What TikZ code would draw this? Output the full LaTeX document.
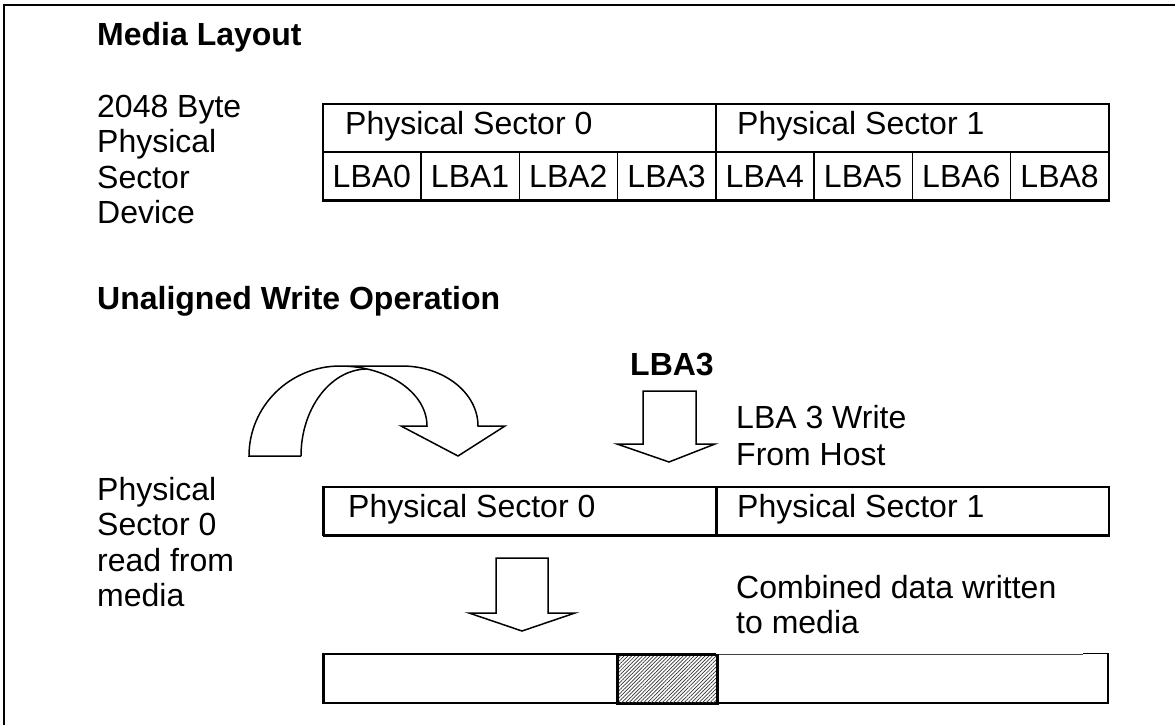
\documentclass[tikz,border=0pt]{standalone}
\usepackage{fontspec}
\setmainfont{Liberation Sans}
\usetikzlibrary{patterns.meta}
\newcommand\diagfs{\fontsize{32}{36}\selectfont}
\begin{document}
\begin{tikzpicture}[x=1pt,y=-1pt,
  txt/.style={anchor=base west, inner sep=0pt, font=\diagfs},
  btxt/.style={anchor=base west, inner sep=0pt, font=\diagfs\bfseries},
  cellbox/.style={draw, line width=1.5pt, minimum height=48pt, inner sep=0pt, anchor=north west, font=\diagfs},
  boxline/.style={line width=1.5pt},
  thickline/.style={line width=3pt},
  frameline/.style={line width=2.2pt},
  blockarrow/.style={line width=1.5pt, line join=miter, fill=white},
  hatch/.style={pattern={Lines[angle=45,distance=2.6pt,line width=0.7pt]}, pattern color=black!80}
]
\useasboundingbox (0,0) rectangle (1175,725);
\fill[white] (0,0) rectangle (1175,725);

% outer frame (only left and top edges are visible)
\draw[frameline] (4,730) -- (4,5) -- (1180,5);

% headings and left texts
\node[btxt] (h1) at (97,46) {Media Layout};
\node[txt] (d1) at (97,117) {2048 Byte};
\node[txt] (d2) at (97,152.5) {Physical};
\node[txt] (d3) at (97,188) {Sector};
\node[txt] (d4) at (97,223.5) {Device};

\node[btxt] (h2) at (97,309) {Unaligned Write Operation};

% top table
\node[cellbox, minimum width=393pt] (tps0) at (322,103) {};
\node[cellbox, minimum width=393pt] (tps1) at (715,103) {};
\node[txt] (tps0t) at (345,134) {Physical Sector 0};
\node[txt] (tps1t) at (737,134) {Physical Sector 1};
\foreach \i/\t in {0/LBA0,1/LBA1,2/LBA2,3/LBA3,4/LBA4,5/LBA5,6/LBA6,7/LBA8}
  \node[cellbox, minimum width=98.25pt, text height=23pt, text depth=0pt] (lba\i) at ({322+\i*98.25},151) {\t};
\draw[line width=2.2pt] (lba0.south west) -- (lba7.south east);

% LBA3 write arrow
\node[anchor=base, inner sep=0pt, font=\diagfs\bfseries] (lbl) at (672,375) {LBA3};
\coordinate (a1) at (643,391);
\draw[blockarrow] (a1) -- (696,391) -- (696,444) -- (715,444) -- (669,462) -- (617,444) -- (643,444) -- cycle;
\node[txt] (w1) at (736,428) {LBA 3 Write};
\node[txt] (w2) at (736,465) {From Host};

% curved arrow
\draw[boxline, line join=miter]
  (301,456) -- (249,456)
  .. controls (249,406) and (290,366) .. (340,366)
  -- (402,366)
  .. controls (444,366) and (478,393) .. (478,426)
  -- (505,426) -- (458,456) -- (401,426) -- (427,426)
  .. controls (427,393) and (388,366) .. (340,366);
\draw[boxline] (301,456) .. controls (301,409) and (330,370) .. (366,369);

% left texts
\node[txt] (r1) at (97,500) {Physical};
\node[txt] (r2) at (97,535.5) {Sector 0};
\node[txt] (r3) at (97,571) {read from};
\node[txt] (r4) at (97,606.5) {media};

% middle table
\node[cellbox, minimum width=393pt] (mps0) at (323,486) {};
\node[cellbox, minimum width=392pt] (mps1) at (716,486) {};
\draw[thickline] (mps0.north west) -- (mps0.south west);
\draw[thickline] (mps1.north west) -- (mps1.south west);
\draw[line width=2.4pt] (mps0.south west) -- (mps1.south east);
\node[txt] (mps0t) at (348,517) {Physical Sector 0};
\node[txt] (mps1t) at (737,517) {Physical Sector 1};

% lower arrow
\draw[blockarrow] (496,558) -- (548,558) -- (548,613) -- (575,613) -- (522,631) -- (469,613) -- (496,613) -- cycle;

\node[txt] (c1) at (736,598) {Combined data written};
\node[txt] (c2) at (736,633) {to media};

% bottom bar
\coordinate (bnw) at (323,654);
\coordinate (bse) at (1108,703);
\draw[line width=1pt, black!75] (716,654.5) -- (1083,654.5);
\draw[line width=1.5pt] (1083,653.5) -- (1108,653.5) -- (1108,703) -- (323,703) -- (323,654) -- (716,654);
\draw[line width=2.4pt] (bnw |- bse) -- (bse);
\path[hatch] (617,654) rectangle (716,703);
\node[draw, line width=1.5pt, minimum width=99pt, minimum height=49pt, inner sep=0pt, anchor=north west] (hatchbox) at (617,654) {};
\draw[thickline] (bnw) -- (bnw |- bse);
\draw[thickline] (hatchbox.north west) -- (hatchbox.south west);
\draw[thickline] (hatchbox.north east) -- (hatchbox.south east);
\end{tikzpicture}
\end{document}
